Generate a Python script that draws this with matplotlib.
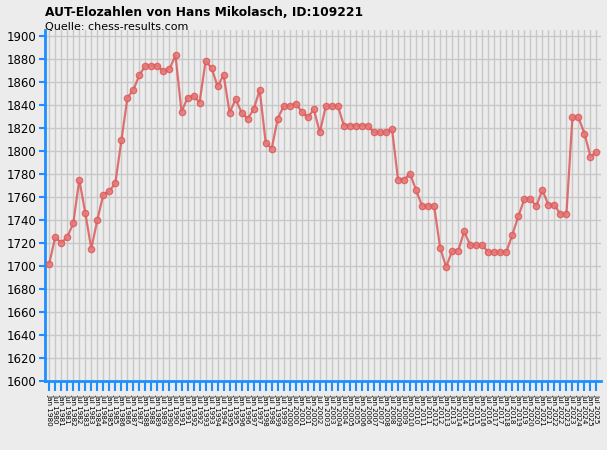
import matplotlib
matplotlib.use("Agg")
import matplotlib.pyplot as plt
import numpy as np

# rating lists, Jan/Jul from 1980 to 2025
years = [y for y in range(1980, 2026) for _ in (0, 1)]
months = ["Jan", "Jul"] * (2026 - 1980)
labels = ["%s %d" % (m, y) for m, y in zip(months, years)]

elo = [1702, 1725, 1720, 1725, 1737, 1775, 1746, 1715, 1740, 1762,
       1765, 1772, 1809, 1846, 1853, 1866, 1874, 1874, 1874, 1869,
       1871, 1883, 1834, 1846, 1848, 1842, 1878, 1872, 1856, 1866,
       1833, 1845, 1833, 1828, 1836, 1853, 1807, 1802, 1828, 1839,
       1839, 1841, 1834, 1829, 1836, 1816, 1839, 1839, 1839, 1822,
       1822, 1822, 1822, 1822, 1816, 1816, 1816, 1819, 1775, 1775,
       1780, 1766, 1752, 1752, 1752, 1716, 1699, 1713, 1713, 1730,
       1718, 1718, 1718, 1712, 1712, 1712, 1712, 1727, 1743, 1758,
       1758, 1752, 1766, 1753, 1753, 1745, 1745, 1829, 1829, 1815,
       1795, 1799]

yticks = list(range(1600, 1901, 20))

bg = "#ececec"
blue = "#1e8fff"

fig = plt.figure(figsize=(6.07, 4.5), dpi=100, facecolor=bg)
ax = fig.add_axes([45 / 607, 1 - 381 / 450, 556 / 607, 351 / 450])
ax.set_facecolor(bg)

x = np.arange(len(elo))
ax.plot(x, elo, color="#dd5a5a", lw=1.6, alpha=0.85, zorder=3,
        marker="o", ms=4.5, mfc="#e57878", mec="#dd5a5a", mew=1)

ax.set_xlim(-0.7, len(elo) - 0.25)
ax.set_ylim(1600, 1905)
ax.set_yticks(yticks)
ax.set_xticks(x)
ax.set_xticklabels(labels, rotation=-90, fontsize=5.2)
ax.tick_params(axis="x", colors=blue, length=7, width=1.5, pad=2,
               labelcolor="black")
ax.tick_params(axis="y", colors=blue, length=4, width=1.5, pad=2,
               labelcolor="black", labelsize=8.5)

ax.grid(True, color="#c8c8c8", lw=1)
ax.set_axisbelow(True)
for s in ["top", "right"]:
    ax.spines[s].set_visible(False)
for s in ["left", "bottom"]:
    ax.spines[s].set_color(blue)
    ax.spines[s].set_linewidth(2)

fig.text(45 / 607, 1 - 12 / 450, "AUT-Elozahlen von Hans Mikolasch, ID:109221",
         fontsize=8.8, fontweight="bold", va="center", ha="left")
fig.text(45 / 607, 1 - 27 / 450, "Quelle: chess-results.com",
         fontsize=8, va="center", ha="left")

fig.savefig("out.png", dpi=100, facecolor=bg)
